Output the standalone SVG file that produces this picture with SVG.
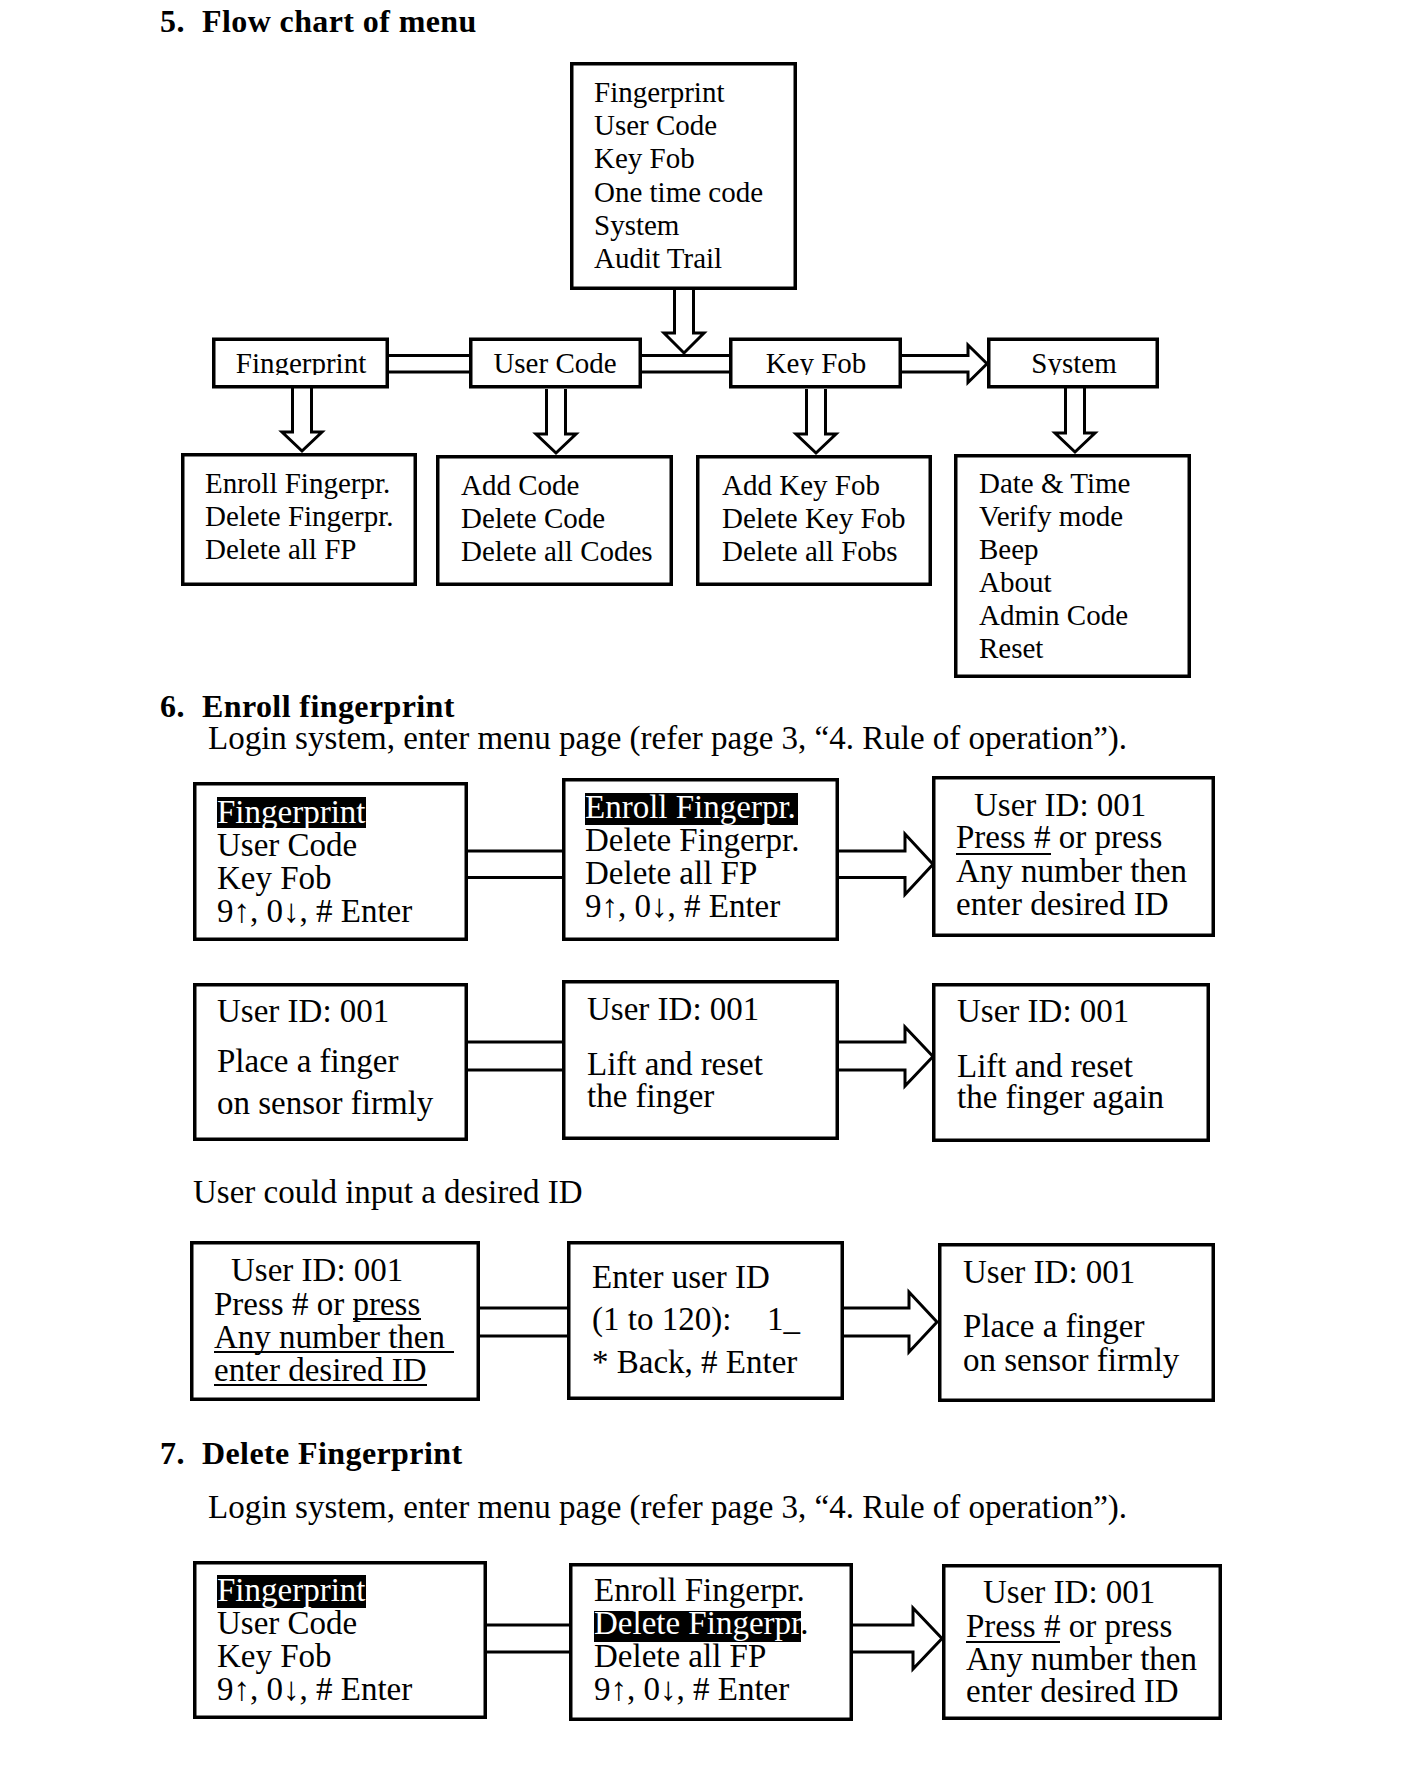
<svg xmlns="http://www.w3.org/2000/svg" width="1404" height="1782" viewBox="0 0 1404 1782">
<style>
.box{fill:none;stroke:#000;stroke-width:3.5}
.t{font-family:"Liberation Serif","Times New Roman",serif;font-size:33px;fill:#000}
.s{font-size:29px}
.h{font-family:"Liberation Serif","Times New Roman",serif;font-size:32px;font-weight:bold;letter-spacing:0.4px;fill:#000}
.c{fill:none;stroke:#000;stroke-width:3}
.hl{fill:#000}
.w{fill:#fff}
.ul{stroke:#000;stroke-width:2}
</style>
<defs>
<clipPath id="rowclip" clipPathUnits="userSpaceOnUse"><rect x="150" y="330" width="1100" height="45"/></clipPath>
</defs>
<rect x="0" y="0" width="1404" height="1782" fill="#fff"/>

<!-- Section headings -->
<g id="headings">
<text class="h" y="32"><tspan x="160">5.</tspan><tspan x="202">Flow chart of menu</tspan></text>
<text class="h" y="717"><tspan x="160">6.</tspan><tspan x="202">Enroll fingerprint</tspan></text>
<text class="t" x="208" y="749">Login system, enter menu page (refer page 3, “4. Rule of operation”).</text>
<text class="t" x="193" y="1203">User could input a desired ID</text>
<text class="h" y="1464"><tspan x="160">7.</tspan><tspan x="202">Delete Fingerprint</tspan></text>
<text class="t" x="208" y="1518">Login system, enter menu page (refer page 3, “4. Rule of operation”).</text>
</g>

<!-- Section 5 -->
<g id="menu">
<rect class="box" x="571.75" y="63.75" width="223.5" height="224.5"/>
<text class="t s" x="594" y="102">Fingerprint</text>
<text class="t s" x="594" y="135">User Code</text>
<text class="t s" x="594" y="168">Key Fob</text>
<text class="t s" x="594" y="202">One time code</text>
<text class="t s" x="594" y="235">System</text>
<text class="t s" x="594" y="268">Audit Trail</text>
</g>
<g id="fingerprint">
<rect class="box" x="213.75" y="339.25" width="173.5" height="47.5"/>
<text class="t s" x="301" y="373" text-anchor="middle" clip-path="url(#rowclip)">Fingerprint</text>
</g>
<g id="usercode">
<rect class="box" x="470.75" y="339.25" width="169.5" height="47.5"/>
<text class="t s" x="555" y="373" text-anchor="middle" clip-path="url(#rowclip)">User Code</text>
</g>
<g id="keyfob">
<rect class="box" x="730.75" y="339.25" width="169.5" height="47.5"/>
<text class="t s" x="816" y="373" text-anchor="middle" clip-path="url(#rowclip)">Key Fob</text>
</g>
<g id="system">
<rect class="box" x="988.75" y="339.25" width="168.5" height="47.5"/>
<text class="t s" x="1074" y="373" text-anchor="middle" clip-path="url(#rowclip)">System</text>
</g>
<g id="fp-sub">
<rect class="box" x="182.75" y="454.75" width="232.5" height="129.5"/>
<text class="t s" x="205" y="493">Enroll Fingerpr.</text>
<text class="t s" x="205" y="526">Delete Fingerpr.</text>
<text class="t s" x="205" y="559">Delete all FP</text>
</g>
<g id="uc-sub">
<rect class="box" x="437.75" y="456.75" width="233.5" height="127.5"/>
<text class="t s" x="461" y="495">Add Code</text>
<text class="t s" x="461" y="528">Delete Code</text>
<text class="t s" x="461" y="561">Delete all Codes</text>
</g>
<g id="kf-sub">
<rect class="box" x="697.75" y="456.75" width="232.5" height="127.5"/>
<text class="t s" x="722" y="495">Add Key Fob</text>
<text class="t s" x="722" y="528">Delete Key Fob</text>
<text class="t s" x="722" y="561">Delete all Fobs</text>
</g>
<g id="sys-sub">
<rect class="box" x="955.75" y="455.75" width="233.5" height="220.5"/>
<text class="t s" x="979" y="493">Date &amp; Time</text>
<text class="t s" x="979" y="526">Verify mode</text>
<text class="t s" x="979" y="559">Beep</text>
<text class="t s" x="979" y="592">About</text>
<text class="t s" x="979" y="625">Admin Code</text>
<text class="t s" x="979" y="658">Reset</text>
</g>

<!-- Section 6 -->
<g id="e1">
<rect class="box" x="194.75" y="783.75" width="271.5" height="155.5"/>
<rect class="hl" x="217" y="797" width="149" height="31"/>
<text class="t w" x="217" y="823">Fingerprint</text>
<text class="t" x="217" y="856">User Code</text>
<text class="t" x="217" y="889">Key Fob</text>
<text class="t" x="217" y="922">9↑, 0↓, # Enter</text>
</g>
<g id="e2">
<rect class="box" x="563.75" y="779.75" width="273.5" height="159.5"/>
<rect class="hl" x="585" y="793" width="213" height="32"/>
<text class="t w" x="585" y="818">Enroll Fingerpr.</text>
<text class="t" x="585" y="851">Delete Fingerpr.</text>
<text class="t" x="585" y="884">Delete all FP</text>
<text class="t" x="585" y="917">9↑, 0↓, # Enter</text>
</g>
<g id="e3">
<rect class="box" x="933.75" y="777.75" width="279.5" height="157.5"/>
<text class="t" x="974" y="816">User ID: 001</text>
<text class="t" x="956" y="848">Press # or press</text>
<line class="ul" x1="956" y1="854" x2="1051" y2="854"/>
<text class="t" x="956" y="882">Any number then</text>
<text class="t" x="956" y="915">enter desired ID</text>
</g>
<g id="e4">
<rect class="box" x="194.75" y="984.75" width="271.5" height="154.5"/>
<text class="t" x="217" y="1022">User ID: 001</text>
<text class="t" x="217" y="1072">Place a finger</text>
<text class="t" x="217" y="1114">on sensor firmly</text>
</g>
<g id="e5">
<rect class="box" x="563.75" y="981.75" width="273.5" height="156.5"/>
<text class="t" x="587" y="1020">User ID: 001</text>
<text class="t" x="587" y="1075">Lift and reset</text>
<text class="t" x="587" y="1107">the finger</text>
</g>
<g id="e6">
<rect class="box" x="933.75" y="984.75" width="274.5" height="155.5"/>
<text class="t" x="957" y="1022">User ID: 001</text>
<text class="t" x="957" y="1077">Lift and reset</text>
<text class="t" x="957" y="1108">the finger again</text>
</g>
<g id="e7">
<rect class="box" x="191.75" y="1242.75" width="286.5" height="156.5"/>
<text class="t" x="231" y="1281">User ID: 001</text>
<text class="t" x="214" y="1315">Press # or press</text>
<line class="ul" x1="353" y1="1319" x2="421" y2="1319"/>
<text class="t" x="214" y="1348">Any number then</text>
<line class="ul" x1="214" y1="1352" x2="454" y2="1352"/>
<text class="t" x="214" y="1381">enter desired ID</text>
<line class="ul" x1="214" y1="1385" x2="427" y2="1385"/>
</g>
<g id="e8">
<rect class="box" x="568.75" y="1242.75" width="273.5" height="155.5"/>
<text class="t" x="592" y="1288">Enter user ID</text>
<text class="t" y="1330"><tspan x="592">(1 to 120):</tspan><tspan x="767">1_</tspan></text>
<text class="t" x="592" y="1373">* Back, # Enter</text>
</g>
<g id="e9">
<rect class="box" x="939.75" y="1244.75" width="273.5" height="155.5"/>
<text class="t" x="963" y="1283">User ID: 001</text>
<text class="t" x="963" y="1337">Place a finger</text>
<text class="t" x="963" y="1371">on sensor firmly</text>
</g>

<!-- Section 7 -->
<g id="d1">
<rect class="box" x="194.75" y="1562.75" width="290.5" height="154.5"/>
<rect class="hl" x="217" y="1575" width="149" height="33"/>
<text class="t w" x="217" y="1601">Fingerprint</text>
<text class="t" x="217" y="1634">User Code</text>
<text class="t" x="217" y="1667">Key Fob</text>
<text class="t" x="217" y="1700">9↑, 0↓, # Enter</text>
</g>
<g id="d2">
<rect class="box" x="570.75" y="1564.75" width="280.5" height="154.5"/>
<text class="t" x="594" y="1601">Enroll Fingerpr.</text>
<rect class="hl" x="594" y="1611" width="207" height="31"/>
<text class="t" x="594" y="1634"><tspan class="w">Delete Fingerpr</tspan>.</text>
<text class="t" x="594" y="1667">Delete all FP</text>
<text class="t" x="594" y="1700">9↑, 0↓, # Enter</text>
</g>
<g id="d3">
<rect class="box" x="943.75" y="1565.75" width="276.5" height="152.5"/>
<text class="t" x="983" y="1603">User ID: 001</text>
<text class="t" x="966" y="1637">Press # or press</text>
<line class="ul" x1="966" y1="1642" x2="1060" y2="1642"/>
<text class="t" x="966" y="1670">Any number then</text>
<text class="t" x="966" y="1702">enter desired ID</text>
</g>

<!-- Connectors -->
<g id="connectors">
<polyline class="c" points="674.5,290 674.5,333 664,333 684,353 704,333 693.5,333 693.5,290"/>
<line class="c" x1="388" y1="355.5" x2="471" y2="355.5"/>
<line class="c" x1="388" y1="372" x2="471" y2="372"/>
<line class="c" x1="641" y1="355.5" x2="731" y2="355.5"/>
<line class="c" x1="641" y1="372" x2="731" y2="372"/>
<polyline class="c" points="901,355.5 968,355.5 968,345 987,363.75 968,382.5 968,372 901,372"/>
<polyline class="c" points="292.5,388 292.5,432 282,432 302,451 322,432 311.5,432 311.5,388"/>
<polyline class="c" points="546.5,389 546.5,434 536,434 556,453 576,434 565.5,434 565.5,389"/>
<polyline class="c" points="806.5,389 806.5,434 796,434 816,453 836,434 825.5,434 825.5,389"/>
<polyline class="c" points="1065.5,388 1065.5,433 1055,433 1075,452 1095,433 1084.5,433 1084.5,388"/>
<line class="c" x1="467" y1="851" x2="564" y2="851"/>
<line class="c" x1="467" y1="877.5" x2="564" y2="877.5"/>
<polyline class="c" points="838,851 905,851 905,834 933,864.25 905,894.5 905,877.5 838,877.5"/>
<line class="c" x1="467" y1="1042" x2="564" y2="1042"/>
<line class="c" x1="467" y1="1070" x2="564" y2="1070"/>
<polyline class="c" points="838,1042 905,1042 905,1027 933,1056.5 905,1086 905,1070 838,1070"/>
<line class="c" x1="479" y1="1308" x2="569" y2="1308"/>
<line class="c" x1="479" y1="1336" x2="569" y2="1336"/>
<polyline class="c" points="843,1308 909,1308 909,1292 937,1322 909,1352 909,1336 843,1336"/>
<line class="c" x1="486" y1="1625" x2="571" y2="1625"/>
<line class="c" x1="486" y1="1652" x2="571" y2="1652"/>
<polyline class="c" points="852,1625 913,1625 913,1608 942,1638.5 913,1669 913,1652 852,1652"/>
</g>
</svg>
